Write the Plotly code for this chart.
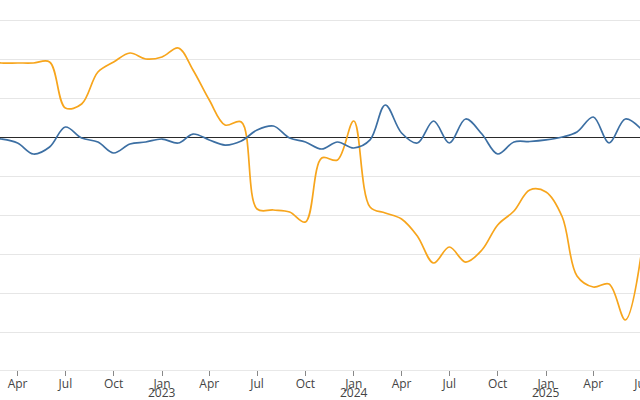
import plotly.graph_objects as go
import pandas as pd

months = pd.date_range("2022-02-01", "2025-07-01", freq="MS")

orange_px = [60, 63, 63, 63, 62, 108, 104, 72, 62, 53, 59,
             57, 48, 70, 100, 125, 122, 209, 210, 212, 222, 158, 160,
             121, 207, 213, 219, 236, 263, 247, 262, 250, 225, 211, 190,
             192, 217, 276, 287, 284, 320, 255]
blue_px = [138, 139, 143, 154, 147, 127, 138, 142, 153, 144, 142,
           139, 143, 134, 140, 145, 141, 130, 126, 138, 142, 149, 142,
           148, 140, 105, 133, 143, 121, 143, 119, 134, 154, 142, 141.5,
           140, 137, 132, 117, 143, 119, 129]

orange_vals = [round((137 - p) / 39 * 5, 2) for p in orange_px]
blue_vals = [round((137 - p) / 39 * 5, 2) for p in blue_px]

tick_dates = pd.date_range("2022-01-01", "2025-07-01", freq="QS")
tick_text = [d.strftime("%b") for d in tick_dates]
year_dates = [d for d in tick_dates if d.month == 1]
year_text = [d.strftime("%Y") for d in year_dates]

fig = go.Figure()
fig.add_trace(go.Scatter(x=months, y=orange_vals, mode="lines",
                         line=dict(color="#f7a51c", width=1.7, shape="spline", smoothing=1.0),
                         showlegend=False, hoverinfo="skip"))
fig.add_trace(go.Scatter(x=months, y=blue_vals, mode="lines",
                         line=dict(color="#3c6fa3", width=1.7, shape="spline", smoothing=1.0),
                         showlegend=False, hoverinfo="skip"))

ytop = 137 / 39 * 5
ybot = -(370 - 137) / 39 * 5

for d, t in zip(year_dates, year_text):
    fig.add_annotation(x=d, y=-22.5 / 370, xref="x", yref="paper", text=t,
                       showarrow=False, xanchor="center", yanchor="middle",
                       font=dict(family="Open Sans", size=12, color="#444"))

fig.update_layout(
    width=660, height=400,
    margin=dict(l=0, r=0, t=0, b=30, autoexpand=False),
    plot_bgcolor="white", paper_bgcolor="white",
    font=dict(family="Open Sans", size=12, color="#444"),
    xaxis=dict(range=["2022-02-26 14:00", "2025-08-06"], tickvals=tick_dates, ticktext=tick_text,
               ticks="outside", ticklen=5, tickcolor="#888", automargin=False,
               ticklabelstandoff=-2,
               showgrid=False, showline=True, linecolor="#e8e8e8", linewidth=1,
               tickfont=dict(size=12, color="#444")),
    yaxis=dict(range=[ybot, ytop], dtick=5, showticklabels=False, automargin=False,
               gridcolor="#e6e6e6", gridwidth=1,
               zeroline=True, zerolinecolor="#2a2a2a", zerolinewidth=1.3),
)
fig.write_html("out.html", config={"displayModeBar": False},
               post_script="document.body.style.margin='0';document.body.style.overflow='hidden';")
